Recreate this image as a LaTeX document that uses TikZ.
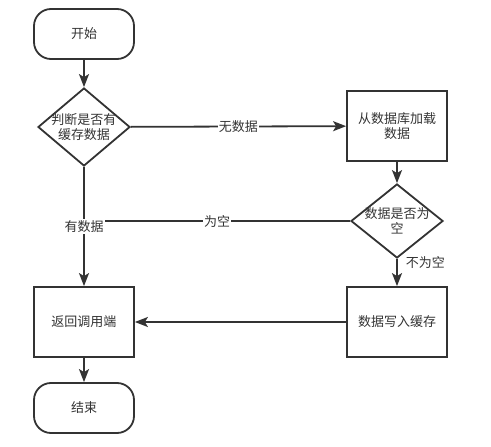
\documentclass[tikz,border=0pt]{standalone}
\usepackage{fontspec}
\newfontfamily\cjk{Noto Sans CJK SC}
\usetikzlibrary{shapes.geometric,arrows.meta}
\definecolor{ink}{HTML}{333333}
\begin{document}
\begin{tikzpicture}[x=1pt,y=-1pt,
  every node/.style={font=\cjk\fontsize{13}{15}\selectfont, text=ink},
  line/.style={draw=ink, line width=1.8pt},
  arr/.style={line, -{Stealth[length=13pt,width=10pt,inset=3pt]}},
  term/.style={draw=ink, line width=1.8pt, rounded corners=17pt, minimum width=100pt, minimum height=50pt, inner sep=0pt},
  proc/.style={draw=ink, line width=1.8pt, minimum width=100pt, minimum height=70pt, align=center, inner sep=0pt},
  dec/.style={draw=ink, line width=1.8pt, diamond, inner sep=0pt},
  lab/.style={fill=white, inner sep=1pt}
]
\useasboundingbox (0,0) rectangle (491,447);
\node[term] (start) at (84,34) {开始};
\node[dec, minimum width=92pt, minimum height=78pt,
  label={[align=center]center:{判断是否有\\缓存数据}}] (d1) at (84,127) {};
\node[proc] (load) at (397,126) {从数据库加载\\数据};
\node[dec, minimum width=92pt, minimum height=74pt,
  label={[align=center]center:{数据是否为\\空}}] (d2) at (397,221) {};
\node[proc] (ret) at (84,322) {返回调用端};
\node[proc] (write) at (397,322) {数据写入缓存};
\node[term] (end) at (84,408) {结束};
\coordinate (j) at (84,221);

\draw[arr] (start) -- (d1);
\draw[arr] (d1) -- node[lab]{无数据} (load);
\draw[line] (d2) -- node[lab]{为空} (j);
\draw[arr] (d1) -- node[lab]{有数据} (ret);
\draw[arr] (load) -- (d2);
\draw[arr] (d2) -- node[pos=0.15, anchor=west, inner sep=1pt, xshift=7pt]{不为空} (write);
\draw[arr] (write) -- (ret);
\draw[arr] (ret) -- (end);
\end{tikzpicture}
\end{document}
